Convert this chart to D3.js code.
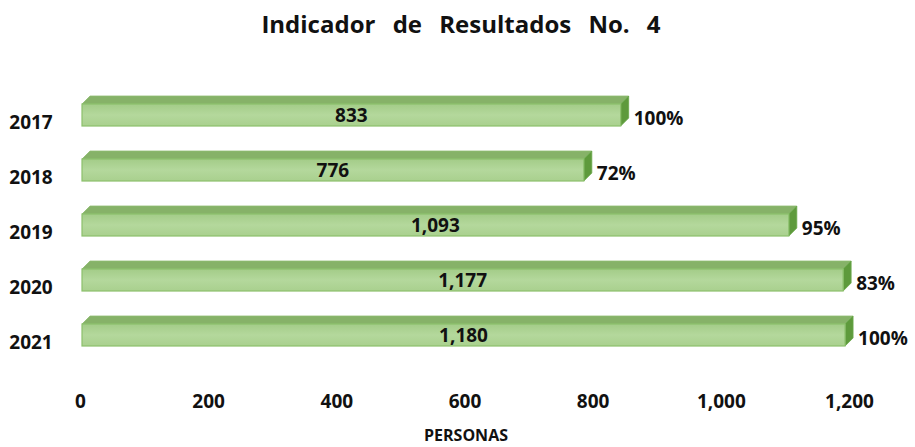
<!DOCTYPE html>
<html><head><meta charset="utf-8">
<script src="https://cdn.jsdelivr.net/npm/d3@7"></script>
<style>body{margin:0;background:#fff}text{font-family:"Open Sans","Noto Sans",sans-serif;font-weight:bold;fill:#111}</style>
</head><body><svg id="c" width="915" height="447"></svg>
<script>
const years = ["2017","2018","2019","2020","2021"];
const personas = [833, 776, 1093, 1177, 1180];
const percents = ["100%","72%","95%","83%","100%"];
const ticks = [0,200,400,600,800,1000,1200];

const svg = d3.select("#c");
const depth=8;
const x = d3.scaleLinear().domain([0,1200]).range([82,858]);
const xAxisScale = d3.scaleLinear().domain([0,1200]).range([80,849]);
const y = d3.scaleBand().domain(years).range([87.5,362.5]).paddingInner(0.6).paddingOuter(0.3);

const defs = svg.append("defs");
const g1 = defs.append("linearGradient").attr("id","front").attr("x1",0).attr("y1",0).attr("x2",0).attr("y2",1);
g1.append("stop").attr("offset","0%").attr("stop-color","#a3cc88");
g1.append("stop").attr("offset","50%").attr("stop-color","#b4d89c");
g1.append("stop").attr("offset","100%").attr("stop-color","#a9d08e");

svg.append("text").attr("x",461).attr("y",33).attr("text-anchor","middle")
  .style("font-size","24px").style("word-spacing","11px").text("Indicador de Resultados No. 4");

const bars = svg.selectAll("g.bar").data(years.map((yr,i)=>({yr,v:personas[i],p:percents[i]}))).join("g").attr("class","bar");
bars.each(function(d){
  const g=d3.select(this);
  const x0=x(0), x1=x(d.v), yt=y(d.yr), yb=yt+y.bandwidth(), yc=(yt+yb)/2;
  g.append("path").attr("d",`M${x0},${yt}L${x0+depth},${yt-depth}L${x1+depth},${yt-depth}L${x1},${yt}Z`)
    .attr("fill","#86b268").attr("stroke","#8fbd72").attr("stroke-width",0.8);
  g.append("path").attr("d",`M${x1},${yt}L${x1+depth},${yt-depth}L${x1+depth},${yb-depth}L${x1},${yb}Z`)
    .attr("fill","#5e9a3c").attr("stroke","#6aa84a").attr("stroke-width",0.8);
  g.append("rect").attr("x",x0).attr("y",yt).attr("width",x1-x0).attr("height",yb-yt)
    .attr("fill","url(#front)").attr("stroke","#8cc06c").attr("stroke-width",1.2);
  g.append("text").attr("x",(x0+x1)/2).attr("y",yc+7).attr("text-anchor","middle")
    .style("font-size","19px").text(d3.format(",")(d.v));
  g.append("text").attr("x",x1+depth+5).attr("y",yc+10).style("font-size","19px").text(d.p);
  g.append("text").attr("x",31).attr("y",yb+3).attr("text-anchor","middle").style("font-size","19px").text(d.yr);
});

const ax = svg.append("g").attr("transform","translate(0,391)")
  .call(d3.axisBottom(xAxisScale).tickValues(ticks).tickFormat(d3.format(",")).tickSize(0));
ax.select(".domain").remove();
ax.selectAll("text").style("font-size","19px").style("font-family",'"Open Sans","Noto Sans",sans-serif').style("font-weight","bold").attr("fill","#111");

svg.append("text").attr("x",466).attr("y",441).attr("text-anchor","middle").style("font-size","16px").text("PERSONAS");
</script></body></html>
